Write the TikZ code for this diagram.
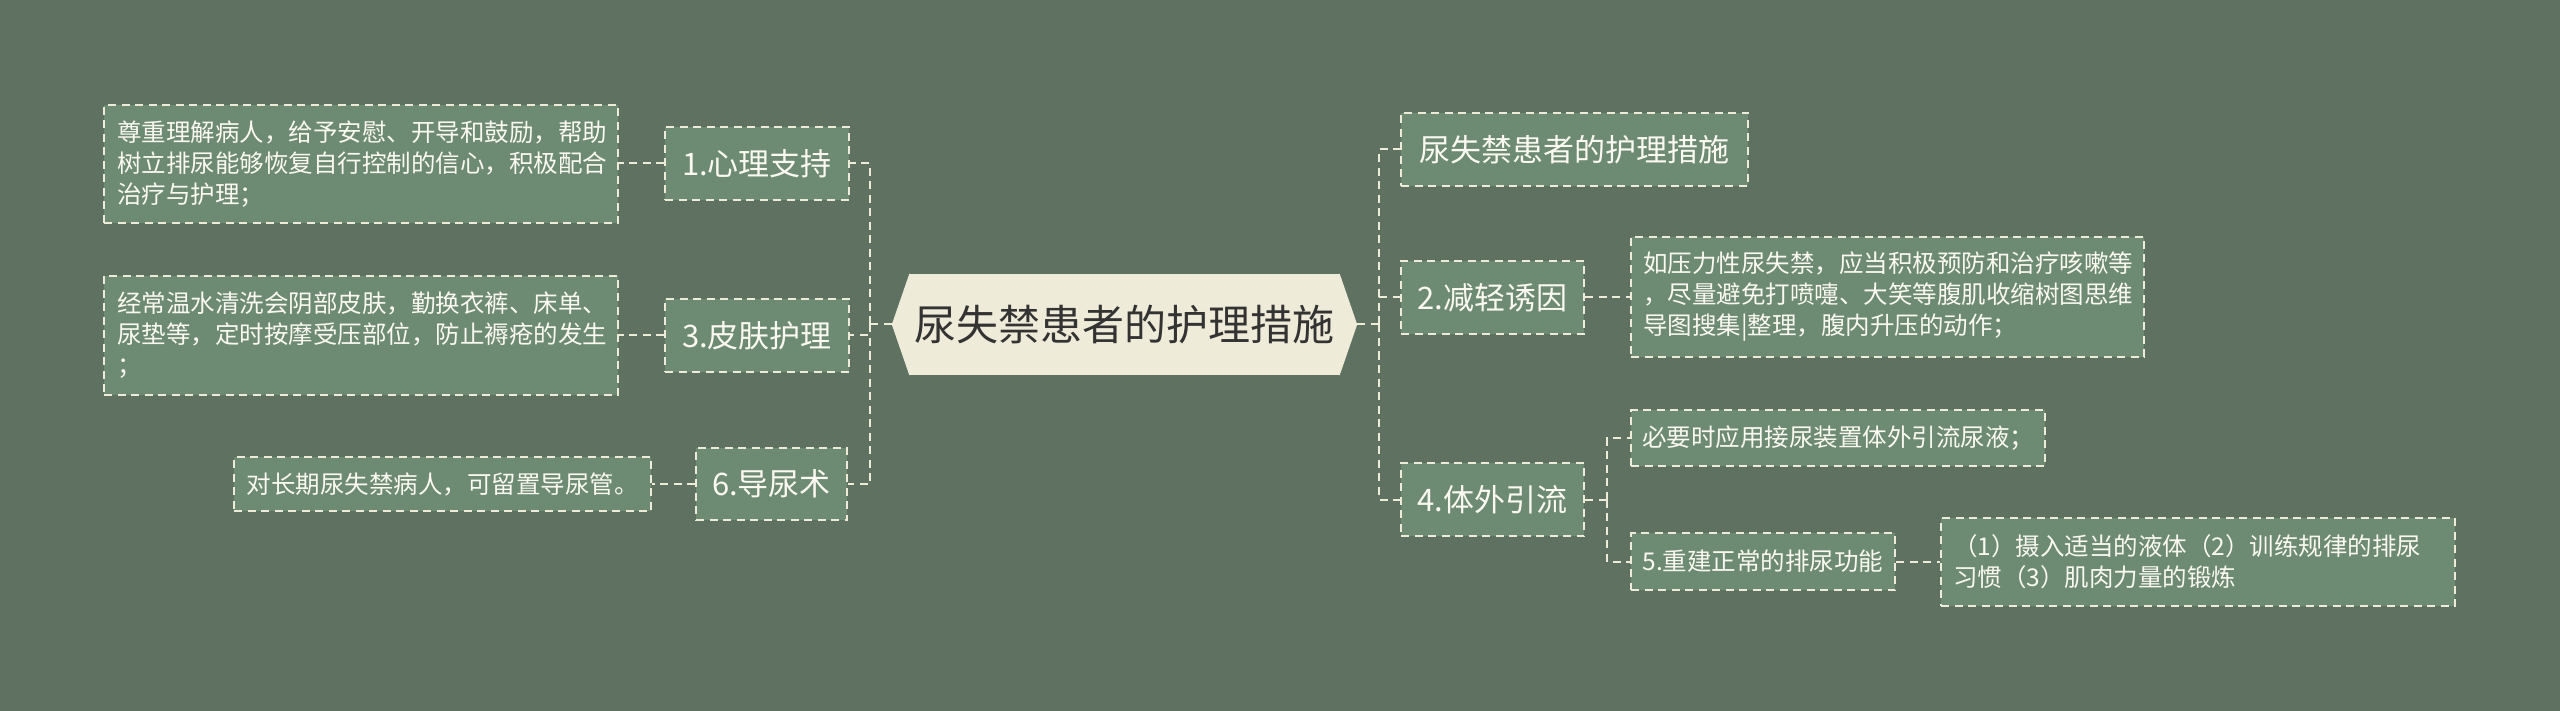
\documentclass[tikz,border=0pt]{standalone}
\usepackage{fontspec}
\setmainfont{Noto Sans CJK SC}
\definecolor{bgc}{HTML}{5F7262}
\definecolor{boxfill}{HTML}{6D8B73}
\definecolor{cream}{HTML}{EFEBD9}
\definecolor{ctext}{HTML}{333333}
\definecolor{btext}{HTML}{FAF8F0}
\begin{document}
\begin{tikzpicture}[x=1pt,y=-1pt,
  box/.style={draw=cream, line width=2pt, dash pattern=on 8pt off 5.5pt, fill=boxfill, text=btext, inner sep=0pt},
  lab/.style={box, font=\fontsize{31}{36}\selectfont},
  txt/.style={box, font=\fontsize{24.5}{31}\selectfont, align=left},
  conn/.style={draw=cream, line width=2pt, dash pattern=on 8pt off 5.5pt}]
\fill[bgc] (0,0) rectangle (2560,711);
\useasboundingbox (0,0) rectangle (2560,711);

% centre
\node[fill=cream, text=ctext, font=\fontsize{42}{48}\selectfont, minimum width=430pt, minimum height=101pt, inner sep=0pt] (c) at (1124.5,324.5) {尿失禁患者的护理措施};
\fill[cream] (c.north west) -- ([xshift=-17.5pt]c.west) -- (c.south west) -- ([xshift=1pt]c.south west) -- ([xshift=1pt]c.north west) -- cycle;
\fill[cream] (c.north east) -- ([xshift=17.5pt]c.east) -- (c.south east) -- ([xshift=-1pt]c.south east) -- ([xshift=-1pt]c.north east) -- cycle;
\coordinate (cl) at ([xshift=-17.5pt]c.west);
\coordinate (cr) at ([xshift=17.5pt]c.east);

% left side
\node[lab, minimum width=184pt, minimum height=73pt] (l1) at (757,163.5) {1.心理支持};
\node[lab, minimum width=184pt, minimum height=73pt] (l3) at (757,335.5) {3.皮肤护理};
\node[lab, minimum width=151pt, minimum height=72pt] (l6) at (771.5,484) {6.导尿术};
\node[txt, minimum width=514pt, minimum height=118pt, text width=488pt] (t1) at (361,164.5)
  {尊重理解病人，给予安慰、开导和鼓励，帮助\\树立排尿能够恢复自行控制的信心，积极配合\\治疗与护理；};
\node[txt, minimum width=514pt, minimum height=119pt, text width=488pt] (t3) at (361,335.5)
  {经常温水清洗会阴部皮肤，勤换衣裤、床单、\\尿垫等，定时按摩受压部位，防止褥疮的发生\\；};
\node[txt, minimum width=417pt, minimum height=54pt] (t6) at (442.5,484) {对长期尿失禁病人，可留置导尿管。};

% right side
\node[lab, minimum width=347pt, minimum height=73pt] (r0) at (1574.5,149.5) {尿失禁患者的护理措施};
\node[lab, minimum width=183pt, minimum height=73pt] (r2) at (1492.5,297.5) {2.减轻诱因};
\node[lab, minimum width=183pt, minimum height=73pt] (r4) at (1492.5,499.5) {4.体外引流};
\node[txt, minimum width=513pt, minimum height=120pt, text width=489pt] (t2) at (1887.5,297)
  {如压力性尿失禁，应当积极预防和治疗咳嗽等\\，尽量避免打喷嚏、大笑等腹肌收缩树图思维\\导图搜集|整理，腹内升压的动作；};
\node[txt, minimum width=414pt, minimum height=56pt] (r4a) at (1838,438) {必要时应用接尿装置体外引流尿液；};
\node[txt, minimum width=264pt, minimum height=57pt] (r5) at (1763,561.5) {5.重建正常的排尿功能};
\node[txt, minimum width=514pt, minimum height=88pt, text width=490pt] (r5a) at (2198,562)
  {（1）摄入适当的液体（2）训练规律的排尿\\习惯（3）肌肉力量的锻炼};

% junctions
\coordinate (lj) at (870,324.5);
\coordinate (rj) at (1379,324.5);
\coordinate (r4j) at (1607,499.5);

% connectors
\draw[conn] (cl) -- (lj);
\draw[conn] (lj) |- (l1.east);
\draw[conn] (lj) |- (l3.east);
\draw[conn] (lj) |- (l6.east);
\draw[conn] (l1.west) -- (t1.east |- l1.west);
\draw[conn] (l3.west) -- (t3.east |- l3.west);
\draw[conn] (l6.west) -- (t6.east);

\draw[conn] (cr) -- (rj);
\draw[conn] (rj) |- (r0.west);
\draw[conn] (rj) |- (r2.west);
\draw[conn] (rj) |- (r4.west);
\draw[conn] (r2.east) -- (t2.west |- r2.east);
\draw[conn] (r4.east) -- (r4j);
\draw[conn] (r4j) |- (r4a.west);
\draw[conn] (r4j) |- (r5.west);
\draw[conn] (r5.east) -- (r5a.west |- r5.east);
\end{tikzpicture}
\end{document}
